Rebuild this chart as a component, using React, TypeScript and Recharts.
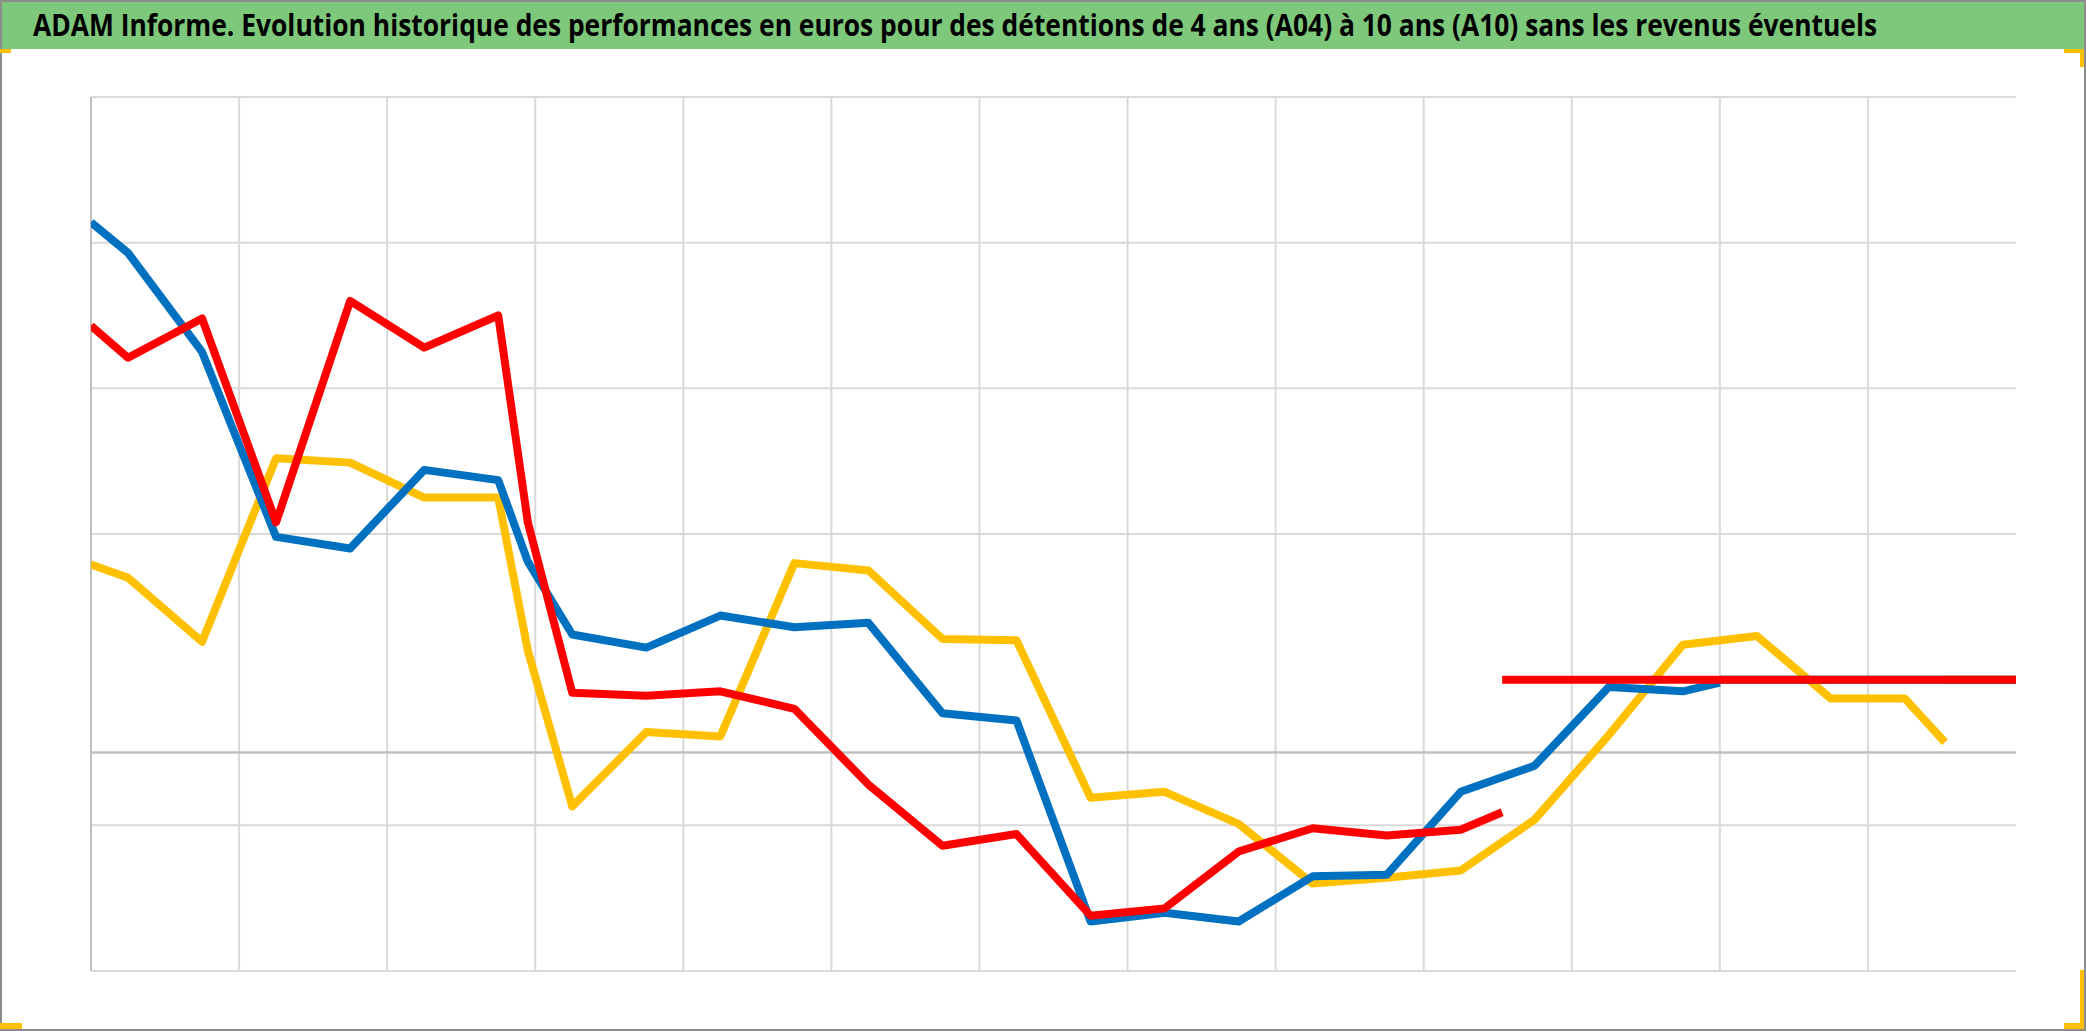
import React, { useLayoutEffect, useRef, useState } from 'react';
import { LineChart, Line, XAxis, YAxis, CartesianGrid, ReferenceLine } from 'recharts';

const TITLE =
  'ADAM Informe. Evolution historique des performances en euros pour des détentions de 4 ans (A04) à 10 ans (A10) sans les revenus éventuels';

// x positions (one unit = one vertical gridline interval)
const steps = [0, 0.25, 0.75, 1.25, 1.75, 2.25, 2.75, 2.95, 3.25, 3.75, 4.25, 4.75, 5.25, 5.75, 6.25, 6.75, 7.25, 7.75, 8.25, 8.75, 9.25, 9.75, 10.25, 10.75, 11.25, 11.75, 12.25];

const blueValues = [364, 343, 275, 148, 140, 194, 187, 131, 81, 72, 94, 86, 89, 27, 22, -116, -110, -116, -85, -84, -27, -9, 45, 42];
const redValues = [293, 271, 298, 158, 310, 278, 300, 158, 41, 39, 42, 30, -22, -64, -56, -112, -107, -68, -52, -57, -53];
const yellowValues = [129, 120, 76, 202, 199, 175, 175, 70, -37, 14, 11, 130, 125, 78, 77, -31, -27, -49, -90, -86, -81, -46, 12, 74, 80, 37, 37];

// last (partial) point of each series: [x, value]
const blueEnd = [11.0, 48];
const redEnd = [9.53, -41];
const yellowEnd = [12.52, 7];

const flatLevel = 50;
const axisEnd = 13;

const gridX = [1, 2, 3, 4, 5, 6, 7, 8, 9, 10, 11, 12];
const gridY = [-150, -50, 150, 250, 350, 450];

const BLUE = '#0070c0';
const RED = '#ff0000';
const YELLOW = '#ffc000';

const toPoints = (values: number[], end: number[]) => [
  ...values.map((v, i) => ({ x: steps[i], v })),
  { x: end[0], v: end[1] },
];
const flatFrom = (start: number) => [
  { x: start, v: flatLevel },
  { x: axisEnd, v: flatLevel },
];

const blueData = toPoints(blueValues, blueEnd);
const redData = toPoints(redValues, redEnd);
const yellowData = toPoints(yellowValues, yellowEnd);

const W = 2086;
const H = 1031;
const TITLE_WIDTH = 1844;

const corner = (style: React.CSSProperties) => (
  <div style={{ position: 'absolute', background: YELLOW, ...style }} />
);

function Title() {
  const ref = useRef<HTMLSpanElement>(null);
  const [scale, setScale] = useState(1);
  useLayoutEffect(() => {
    if (ref.current) {
      const w = ref.current.offsetWidth;
      if (w > 0) setScale(TITLE_WIDTH / w);
    }
  }, []);
  return (
    <span
      ref={ref}
      style={{
        position: 'absolute',
        left: 33,
        top: 2,
        display: 'inline-block',
        whiteSpace: 'nowrap',
        fontFamily: "'Open Sans', 'Noto Sans', sans-serif",
        fontWeight: 700,
        fontSize: 31,
        lineHeight: '44px',
        color: '#000',
        transform: `scaleX(${scale})`,
        transformOrigin: 'left center',
      }}
    >
      {TITLE}
    </span>
  );
}

export default function App() {
  const lineProps = {
    type: 'linear' as const,
    dataKey: 'v',
    dot: false,
    activeDot: false,
    isAnimationActive: false,
    strokeWidth: 8,
    strokeLinejoin: 'round' as const,
  };
  return (
    <div
      style={{
        position: 'fixed',
        left: 0,
        top: 0,
        width: W,
        height: H,
        background: '#fff',
        overflow: 'hidden',
      }}
    >
      <div style={{ position: 'absolute', left: 0, top: 0 }}>
        <LineChart width={W} height={H} margin={{ top: 97, right: 70, bottom: 60, left: 91 }}>
          <CartesianGrid stroke="#d9d9d9" strokeWidth={2} vertical={false} />
          <XAxis dataKey="x" type="number" domain={[0, axisEnd]} allowDataOverflow hide />
          <YAxis type="number" domain={[-150, 450]} ticks={gridY} allowDataOverflow hide />
          {gridX.map((g) => (
            <ReferenceLine key={g} x={g} stroke="#d9d9d9" strokeWidth={2} />
          ))}
          <ReferenceLine x={0} stroke="#bfbfbf" strokeWidth={2} />
          <ReferenceLine y={0} stroke="#bfbfbf" strokeWidth={2.5} />
          <Line {...lineProps} data={yellowData} stroke={YELLOW} />
          <Line {...lineProps} data={blueData} stroke={BLUE} />
          <Line {...lineProps} data={redData} stroke={RED} />
          <Line {...lineProps} data={flatFrom(yellowEnd[0])} stroke={YELLOW} />
          <Line {...lineProps} data={flatFrom(blueEnd[0])} stroke={BLUE} />
          <Line {...lineProps} data={flatFrom(redEnd[0])} stroke={RED} />
        </LineChart>
      </div>

      {/* title bar */}
      <div style={{ position: 'absolute', left: 0, top: 0, width: W, height: 49, background: '#7ec87c', overflow: 'hidden' }}>
        <Title />
      </div>

      {/* frame */}
      <div
        style={{
          position: 'absolute',
          left: 0,
          top: 0,
          width: W,
          height: H,
          boxSizing: 'border-box',
          border: '2px solid #8c8c8c',
          pointerEvents: 'none',
        }}
      />

      {/* selection handles */}
      {corner({ left: 0, top: 49, width: 11, height: 4 })}
      {corner({ left: 2064, top: 49, width: 20, height: 4 })}
      {corner({ left: 2080, top: 49, width: 4, height: 18 })}
      {corner({ left: 0, top: 1023, width: 22, height: 6 })}
      {corner({ left: 2080, top: 970, width: 4, height: 59 })}
      {corner({ left: 2064, top: 1023, width: 20, height: 6 })}
    </div>
  );
}
